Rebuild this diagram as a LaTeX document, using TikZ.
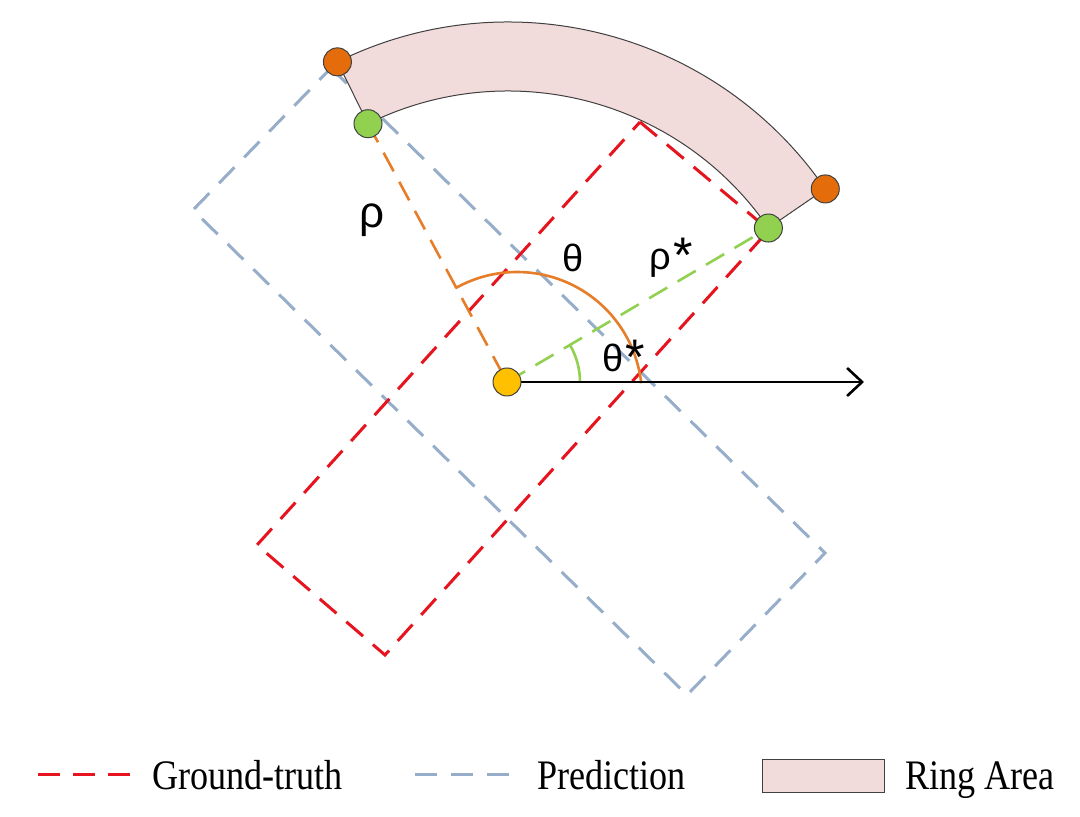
\documentclass[tikz,border=0pt]{standalone}
\usepackage{fontspec}
\setmainfont{Liberation Serif}
\newfontfamily\labelfont{Liberation Sans}
\usetikzlibrary{arrows.meta,calc}
\definecolor{gtred}{RGB}{230,20,30}
\definecolor{predblue}{RGB}{150,174,202}
\definecolor{oline}{RGB}{230,125,40}
\definecolor{odot}{RGB}{228,108,10}
\definecolor{gdot}{RGB}{146,208,80}
\definecolor{ydot}{RGB}{255,192,0}
\definecolor{ringfill}{RGB}{242,220,219}
\definecolor{ringedge}{RGB}{64,64,64}
\newcommand{\legtxt}[1]{\scalebox{0.86}[1]{#1}}
\newcommand{\bigstar}{\kern2pt\raisebox{-3pt}{\fontsize{50}{50}\selectfont *}}
\begin{document}
\begin{tikzpicture}[x=1pt,y=1pt,
  gtline/.style={draw=gtred, line width=3pt, dash pattern=on 22pt off 13pt},
  predline/.style={draw=predblue, line width=3pt, dash pattern=on 22pt off 14pt},
  rholine/.style={draw=oline, line width=2.6pt, dash pattern=on 21pt off 12pt},
  rhostarline/.style={draw=gdot, line width=2.6pt, dash pattern=on 21pt off 12pt},
  dot/.style={circle, draw=ringedge, line width=1pt, minimum size=28pt, inner sep=0pt},
  sym/.style={font=\labelfont\fontsize{38}{40}\selectfont, inner sep=0pt},
  legtext/.style={font=\fontsize{42}{44}\selectfont, anchor=base west, inner sep=0pt}]
\useasboundingbox (0,0) rectangle (1080,817);
\fill[white] (0,0) rectangle (1080,817);

% ground-truth rectangle
\coordinate (gT) at (640,695);
\coordinate (gR) at (769,587);
\coordinate (gB) at (385,162);
\coordinate (gL) at (257,272);
% prediction rectangle
\coordinate (pL) at (193,607);
\coordinate (pT) at (331,749);
\coordinate (pR) at (825,264);
\coordinate (pB) at (687,122);

\draw[predline] (pT) -- (pR) -- (pB) -- (pL) -- cycle;
\draw[gtline] (gT) -- (gR) -- (gB) -- (gL) -- cycle;

% ring
\coordinate (rc) at (508,410);
\coordinate (o1) at ($(rc)+(116.3:385)$);
\coordinate (g1) at ($(rc)+(116.3:316)$);
\coordinate (o2) at ($(rc)+(34.5:385)$);
\coordinate (g2) at ($(rc)+(34.5:316)$);
\draw[ringedge, fill=ringfill, line width=1pt]
  (o2) arc[start angle=34.5, end angle=116.3, radius=385] -- (g1)
  arc[start angle=116.3, end angle=34.5, radius=316] -- cycle;

% origin and lines
\coordinate (O) at (507,435);
\coordinate (axisend) at (864,435);
\draw[rholine] (g1) -- (O);
\draw[rhostarline] (O) -- (g2);
\coordinate (tc) at (517,420);
\draw[oline, line width=2.6pt] ($(tc)+(119.6:125)$) arc[start angle=119.6, end angle=6.3, radius=125];
\draw[gdot, line width=2.6pt] ($(O)+(0:73)$) arc[start angle=0, end angle=30.5, radius=73];
\draw[black, line width=2.6pt, -{Straight Barb[length=15pt, width=28pt, line width=2.6pt]}] (O) -- (axisend);

% dots
\node[dot, fill=odot] (n1) at (o1) {};
\node[dot, fill=gdot] (n2) at (g1) {};
\node[dot, fill=odot] (n3) at (o2) {};
\node[dot, fill=gdot] (n4) at (g2) {};
\node[dot, fill=ydot] (n0) at (O) {};

% labels
\node[sym, font=\labelfont\fontsize{44}{46}\selectfont] (lrho) at (372,597) {ρ};
\node[sym] (ltheta) at (573,559) {θ};
\node[sym] (lrhostar) at (671,559) {ρ\bigstar};
\node[sym] (lthetastar) at (624,460) {θ\bigstar};

% legend
\coordinate (l1a) at (38,42);
\coordinate (l1b) at (132,42);
\coordinate (l2a) at (415,42);
\coordinate (l2b) at (510,42);
\draw[gtline] (l1a) -- (l1b);
\draw[predline] (l2a) -- (l2b);
\node[draw=ringedge, fill=ringfill, line width=1pt, minimum width=122pt, minimum height=33pt, inner sep=0pt] (lbox) at (823,41) {};
\node[legtext] (t1) at (152,27) {\legtxt{Ground-truth}};
\node[legtext] (t2) at (537,27) {\legtxt{Prediction}};
\node[legtext] (t3) at (905,27) {\legtxt{Ring Area}};
\end{tikzpicture}
\end{document}
